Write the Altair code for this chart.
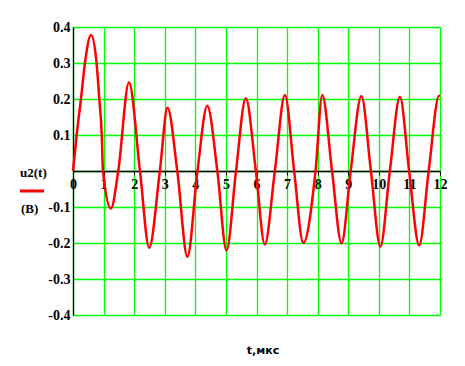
import altair as alt
import pandas as pd

# Signal samples (t in microseconds, u2 in volts)
t_vals = [0, 0.12, 0.26, 0.39, 0.59, 0.77, 0.86, 0.94, 0.98, 1.24, 1.48, 1.83,
          2.19, 2.49, 2.84, 3.09, 3.41, 3.74, 4.07, 4.39, 4.72, 5.02, 5.33,
          5.65, 5.98, 6.27, 6.60, 6.93, 7.23, 7.53, 7.93, 8.15, 8.47, 8.78,
          9.08, 9.43, 9.74, 10.05, 10.36, 10.69, 10.99, 11.32, 11.63, 11.97, 12.0]
u_vals = [0, 0.10, 0.20, 0.30, 0.378, 0.30, 0.20, 0.10, 0, -0.104, 0, 0.246,
          0, -0.213, 0, 0.176, 0, -0.238, 0, 0.181, 0, -0.221, 0,
          0.202, 0, -0.204, 0, 0.211, 0, -0.200, 0, 0.211, 0, -0.201,
          0, 0.208, 0, -0.210, 0, 0.206, 0, -0.207, 0, 0.209, 0.208]

x_ticks = list(range(0, 13))
y_ticks = [-0.4, -0.3, -0.2, -0.1, 0.0, 0.1, 0.2, 0.3, 0.4]
y_min, y_max = -0.4, 0.4

W, H = 367, 288
GREEN = "#00ff00"
FONT = "Liberation Serif"

df = pd.DataFrame({"t": t_vals, "u": u_vals})

line = alt.Chart(df).mark_line(color="#ff0000", strokeWidth=2.5, interpolate="monotone").encode(
    x=alt.X("t:Q", scale=alt.Scale(domain=[0, 12], nice=False, zero=False),
            axis=alt.Axis(values=x_ticks, grid=True, gridColor=GREEN, gridWidth=1.3,
                          domainColor="black", domainWidth=1.3, tickColor="black",
                          tickSize=4, labelFont=FONT, labelFontWeight="bold",
                          labelFontSize=14, labelColor="black", labelPadding=2,
                          labelAlign="center", labelBaseline="top",
                          labelExpr="datum.value == 0 ? ' 0' : datum.label",
                          offset=-H * y_max / (y_max - y_min), title=None,
                          labelFlush=False)),
    y=alt.Y("u:Q", scale=alt.Scale(domain=[y_min, y_max], nice=False, zero=False),
            axis=alt.Axis(values=y_ticks, grid=True, gridColor=GREEN, gridWidth=1.3,
                          domainColor="black", domainWidth=1.3, ticks=False,
                          labelFont=FONT, labelFontWeight="bold", labelFontSize=14,
                          labelColor="black", labelPadding=3,
                          labelExpr="datum.value == 0 ? '' : replace(format(datum.value, '.1f'), '\u2212', '-')",
                          title=None)),
)

def label(txt, x, y, size=13, font=FONT, align="left"):
    return alt.Chart(pd.DataFrame({"txt": [txt]})).mark_text(
        font=font, fontWeight="bold", fontSize=size, color="black",
        align=align, baseline="alphabetic"
    ).encode(text="txt:N", x=alt.value(x), y=alt.value(y))

legend_line = alt.Chart(pd.DataFrame({"k": [0]})).mark_rule(
    color="#ff0000", strokeWidth=3
).encode(x=alt.value(-53), x2=alt.value(-29), y=alt.value(164))

chart = alt.layer(
    line,
    label("u2(t)", -53, 150),
    legend_line,
    label("(В)", -52, 186),
    label("t,мкс", 190, 327, size=11, font="DejaVu Sans", align="center"),
).properties(
    width=W, height=H,
    autosize=alt.AutoSizeParams(type="none"),
    padding={"left": 65, "top": 19, "right": 17, "bottom": 50},
).configure_view(strokeWidth=0)

chart.save("out.html", embed_options={"renderer": "svg", "actions": False})
